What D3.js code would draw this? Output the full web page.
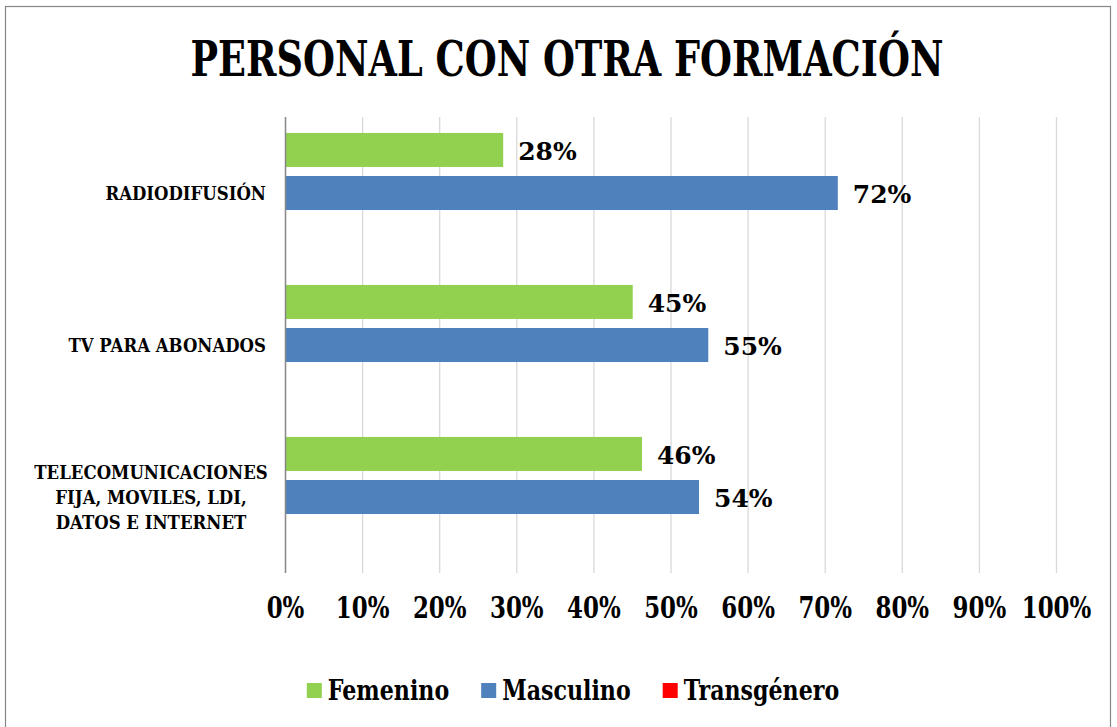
<!DOCTYPE html>
<html>
<head>
<meta charset="utf-8">
<script src="https://cdn.jsdelivr.net/npm/d3@7"></script>
<style>
  html, body { margin: 0; padding: 0; background: #fff; }
  svg { display: block; }
  text { font-family: "DejaVu Serif", "Liberation Serif", serif; font-weight: bold; fill: #000; }
</style>
</head>
<body>
<svg id="chart" width="1117" height="727"></svg>
<script>
// ---- data ----
const title = "PERSONAL CON OTRA FORMACIÓN";
const categories = [
  ["RADIODIFUSIÓN"],
  ["TV PARA ABONADOS"],
  ["TELECOMUNICACIONES", "FIJA, MOVILES, LDI,", "DATOS E INTERNET"]
];
const seriesNames = ["Femenino", "Masculino", "Transgénero"];
const femenino = [28.3, 45.1, 46.3];
const masculino = [71.7, 54.9, 53.7];
const transgenero = [0, 0, 0];
const seriesColors = ["#92D050", "#4F81BD", "#FF0000"];
const xTicks = [0, 10, 20, 30, 40, 50, 60, 70, 80, 90, 100];

const seriesValues = [femenino, masculino, transgenero];

// ---- layout ----
const svg = d3.select("#chart");
const plot = { left: 285, right: 1056, top: 117, bottom: 573 };

// chart border
svg.append("rect")
  .attr("x", 5.5).attr("y", 6.5).attr("width", 1105).attr("height", 740)
  .attr("fill", "none").attr("stroke", "#868686").attr("stroke-width", 1.2);

// title (condensed horizontally)
const titleT = svg.append("text")
  .attr("text-anchor", "middle")
  .attr("font-size", 48)
  .text(title);
const tw = titleT.node().getComputedTextLength();
titleT.attr("transform", `translate(567,76) scale(${753 / tw},1)`);

const x = d3.scaleLinear().domain([0, 100]).range([plot.left, plot.right]);
const catIdx = categories.map((c, i) => i);
const y = d3.scaleBand().domain(catIdx).range([plot.top, plot.bottom]).paddingInner(0).paddingOuter(0);
const ySeries = d3.scaleBand().domain(d3.range(seriesNames.length))
  .range([0, y.bandwidth()]).paddingInner(0.21).paddingOuter(0.37);

// gridlines
svg.append("g").selectAll("line").data(xTicks.slice(1)).join("line")
  .attr("x1", d => x(d) + 0.5).attr("x2", d => x(d) + 0.5)
  .attr("y1", plot.top).attr("y2", plot.bottom)
  .attr("stroke", "#d9d9d9").attr("stroke-width", 1.3);

// x axis (labels only)
const xAxis = svg.append("g")
  .attr("transform", `translate(0,${plot.bottom})`)
  .call(d3.axisBottom(x).tickValues(xTicks).tickFormat(d => d + "%").tickSize(0).tickPadding(0));
xAxis.select(".domain").remove();
xAxis.selectAll("text")
  .attr("y", 0).attr("dy", 0)
  .attr("font-family", "DejaVu Serif, serif")
  .attr("font-weight", "bold")
  .attr("font-size", 29)
  .attr("fill", "#000")
  .attr("transform", "translate(0,45) scale(0.79,1)");

// bars
seriesValues.forEach((vals, s) => {
  svg.append("g").selectAll("rect").data(vals).join("rect")
    .attr("x", x(0))
    .attr("y", (d, i) => y(i) + ySeries(s))
    .attr("width", d => x(d) - x(0))
    .attr("height", ySeries.bandwidth())
    .attr("fill", seriesColors[s]);
  // data labels (skip zero-valued series)
  if (d3.max(vals) > 0) {
    svg.append("g").selectAll("text").data(vals).join("text")
      .attr("x", d => x(d) + 15)
      .attr("y", (d, i) => y(i) + ySeries(s) + ySeries.bandwidth() / 2 + 10)
      .attr("font-size", 25)
      .text(d => Math.round(d) + "%");
  }
});

// y axis line
svg.append("line")
  .attr("x1", plot.left + 0.5).attr("x2", plot.left + 0.5)
  .attr("y1", plot.top).attr("y2", plot.bottom)
  .attr("stroke", "#868686").attr("stroke-width", 1.5);

// category labels
const catScale = 0.92;
categories.forEach((lines, i) => {
  const cy = y(i) + y.bandwidth() / 2;
  const lh = 25;
  const n = lines.length;
  const anchorX = n > 1 ? 151 : 266;
  const t = svg.append("text")
    .attr("text-anchor", n > 1 ? "middle" : "end")
    .attr("font-size", 18)
    .attr("transform", `translate(${anchorX},0) scale(${catScale},1)`);
  lines.forEach((ln, k) => {
    t.append("tspan")
      .attr("x", 0)
      .attr("y", cy + (k - (n - 1) / 2) * lh + 7)
      .text(ln);
  });
});

// legend
const legendY = 690;
const legendG = svg.append("g");
const items = [];
seriesNames.forEach((name, s) => {
  const g = legendG.append("g");
  g.append("rect").attr("x", 0).attr("y", legendY - 7).attr("width", 15).attr("height", 15).attr("fill", seriesColors[s]);
  const t = g.append("text")
    .attr("font-size", 27)
    .attr("transform", `translate(21,${legendY + 10}) scale(0.82,1)`)
    .text(name);
  const w = 21 + t.node().getComputedTextLength() * 0.82;
  items.push({ g, w });
});
const gap = 32;
const total = d3.sum(items, d => d.w) + gap * (items.length - 1);
let cx = 573 - total / 2;
items.forEach(it => { it.g.attr("transform", `translate(${cx},0)`); cx += it.w + gap; });
</script>
</body>
</html>
